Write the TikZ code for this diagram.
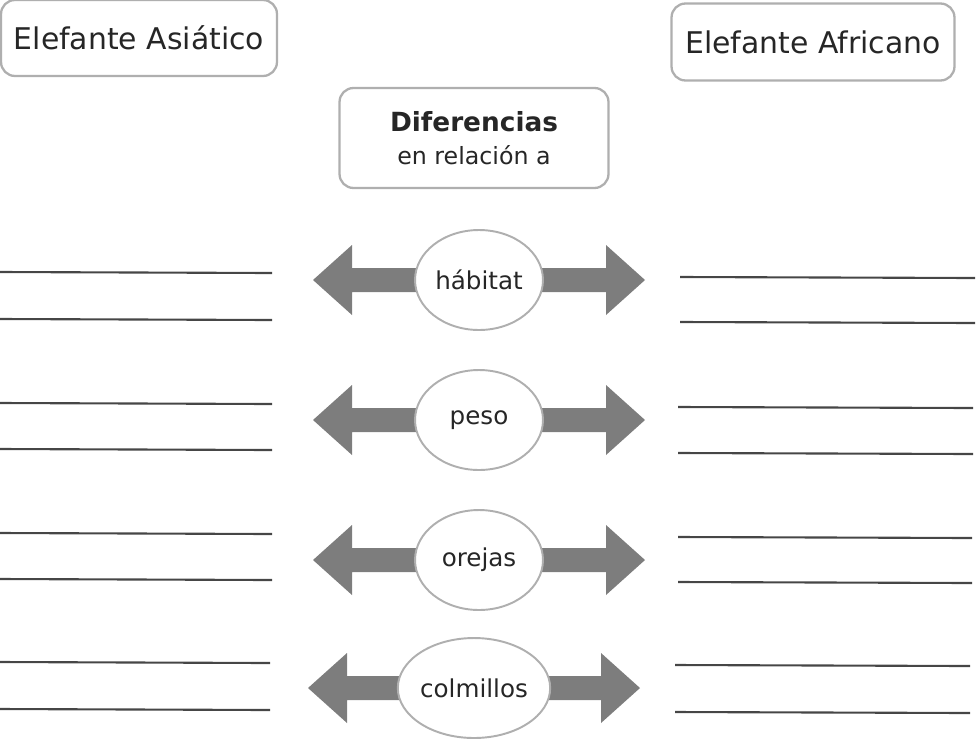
\documentclass[tikz,border=0pt]{standalone}
\usepackage{fontspec}
\setmainfont{DejaVu Sans}
\usepackage{tikz}
\usetikzlibrary{shapes.geometric,backgrounds}

\definecolor{flechagris}{RGB}{125,125,125}
\definecolor{bordegris}{RGB}{175,175,175}
\definecolor{renglongris}{RGB}{70,70,70}

\tikzset{
  caja/.style={draw=bordegris, line width=1.3pt, rounded corners=0.28cm, fill=white,
    text=black!85, inner sep=0pt},
  tema/.style={ellipse, draw=bordegris, line width=1.1pt, fill=white, inner sep=0pt,
    minimum width=2.56cm, minimum height=2cm, text=black!85,
    font=\fontsize{14}{16}\selectfont},
  flecha/.style={fill=flechagris},
  renglon/.style={draw=renglongris, line width=1.2pt}
}

\begin{document}
\begin{tikzpicture}[x=0.02cm, y=-0.02cm]
  \useasboundingbox (0,0) rectangle (979,741);
  % encabezados
  \node[caja, minimum width=5.52cm, minimum height=1.52cm,
    font=\fontsize{17}{20}\selectfont] (asia) at (139,38) {Elefante Asiático};
  \node[caja, minimum width=5.66cm, minimum height=1.54cm,
    font=\fontsize{17}{20}\selectfont] (africa) at (813,42) {Elefante Africano};
  \node[caja, minimum width=5.38cm, minimum height=2cm, align=center]
    (dif) at (474,138) {{\fontsize{15}{19}\selectfont\bfseries Diferencias}\\[7pt]
    {\fontsize{13.5}{19}\selectfont en relación a}};
  % temas
  \node[tema] (hab) at (479,280) {hábitat};
  \node[tema] (peso) at (479,420) {peso};
  \node[tema] (orejas) at (479,560) {orejas};
  \node[tema, minimum width=2.64cm] (colm) at (474,688) {colmillos};
  \begin{pgfonlayer}{background}
    \foreach \t in {hab,peso,orejas,colm} {
      \fill[flecha] (\t.center) ++(0,-12) -- ++(-127,0) -- ++(0,-23) -- ++(-39,35)
        -- ++(39,35) -- ++(0,-23) -- ++(127,0) -- cycle;
      \fill[flecha] (\t.center) ++(0,-12) -- ++(127,0) -- ++(0,-23) -- ++(39,35)
        -- ++(-39,35) -- ++(0,-23) -- ++(-127,0) -- cycle;
    }
  \end{pgfonlayer}
  % renglones
  \draw[renglon] (0,272) -- (272,273);
  \draw[renglon] (0,319) -- (272,320);
  \draw[renglon] (680,277) -- (975,278);
  \draw[renglon] (680,322) -- (975,323);
  \draw[renglon] (0,403) -- (272,404);
  \draw[renglon] (0,449) -- (272,450);
  \draw[renglon] (678,407) -- (973,408);
  \draw[renglon] (678,453) -- (973,454);
  \draw[renglon] (0,533) -- (272,534);
  \draw[renglon] (0,579) -- (272,580);
  \draw[renglon] (678,537) -- (972,538);
  \draw[renglon] (678,582) -- (972,583);
  \draw[renglon] (0,662) -- (270,663);
  \draw[renglon] (0,709) -- (270,710);
  \draw[renglon] (675,665) -- (970,666);
  \draw[renglon] (675,712) -- (970,713);
\end{tikzpicture}
\end{document}
